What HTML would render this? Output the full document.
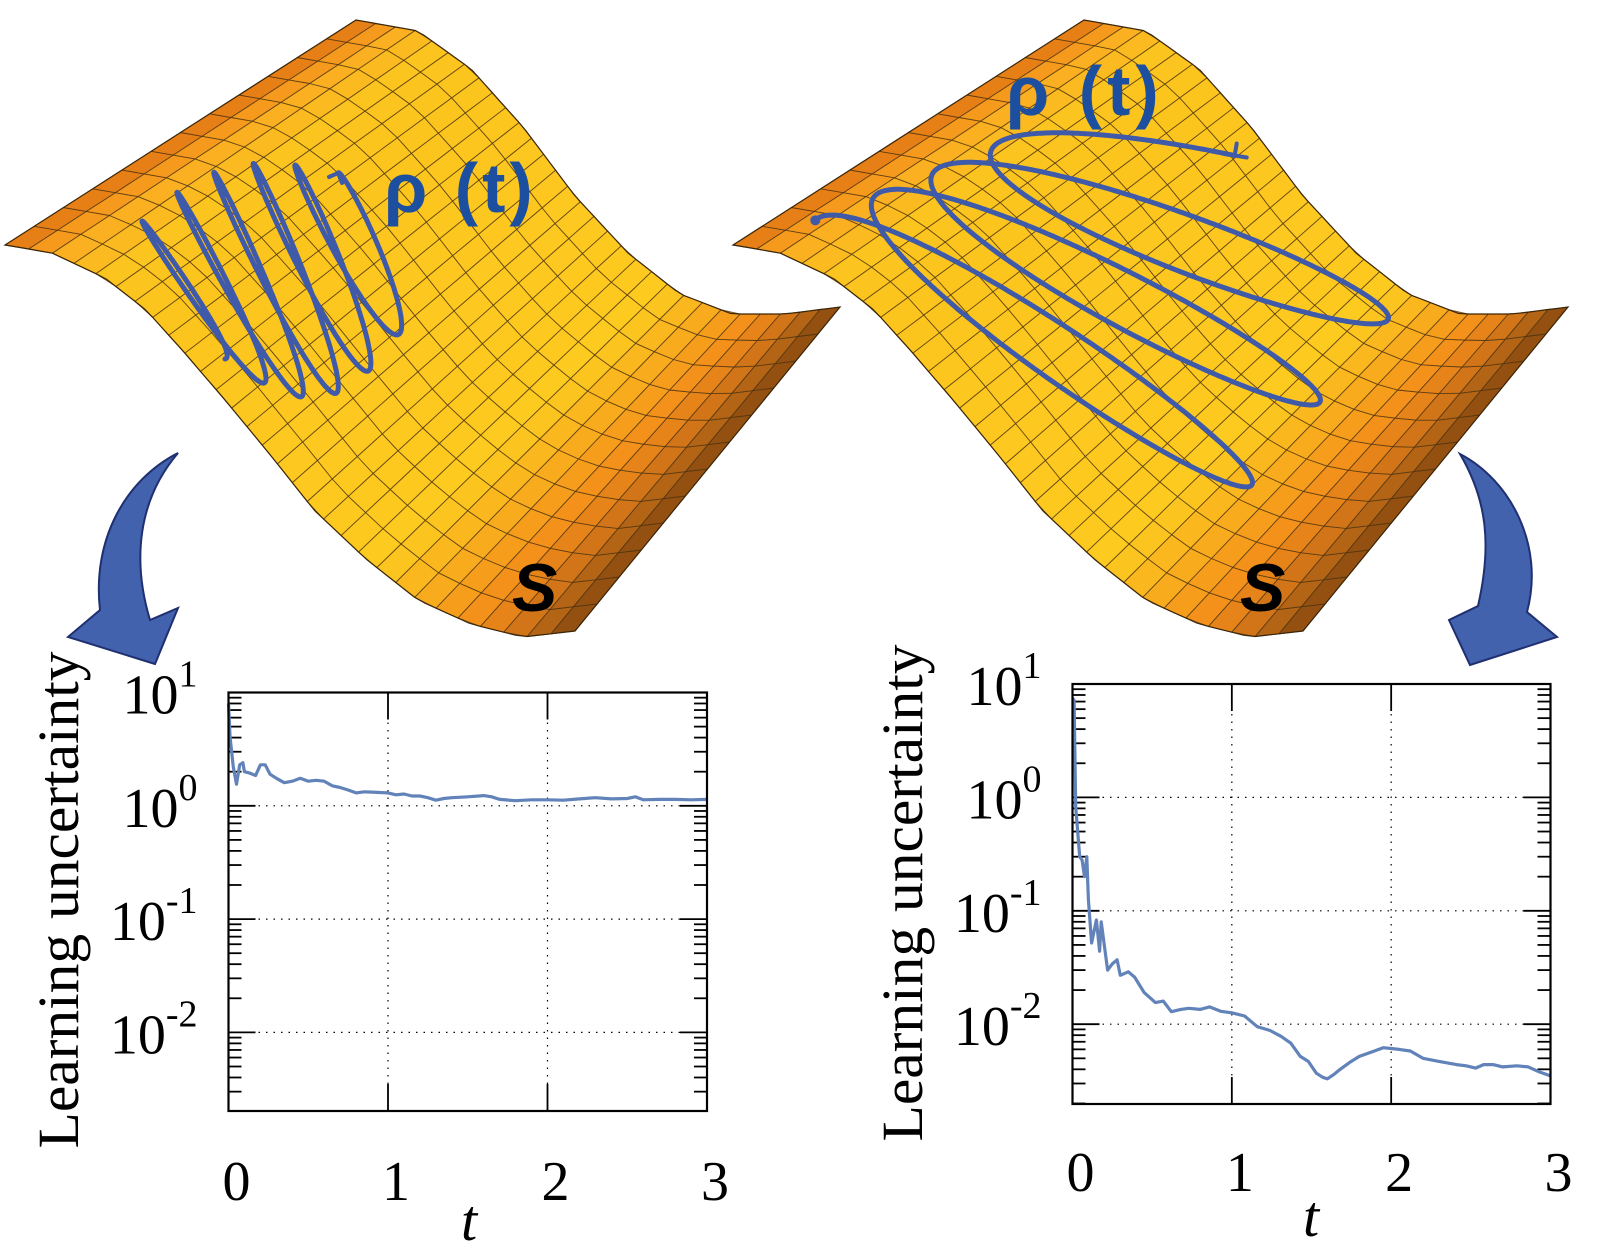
<!DOCTYPE html>
<html><head><meta charset="utf-8"><style>
html,body{margin:0;padding:0;background:#fff;}
svg{display:block;}
</style></head><body>
<svg id="fig" width="1600" height="1259" viewBox="0 0 1600 1259" xmlns="http://www.w3.org/2000/svg">
<rect x="0" y="0" width="1600" height="1259" fill="#fff"/>
<g id="surfaces"></g>
<g id="trajs"></g>
<g id="labels">
  <text x="384" y="212" font-family="Liberation Sans, DejaVu Sans, sans-serif" font-weight="bold" font-size="70" fill="#1c4fa0" letter-spacing="4">ρ (t)</text>
  <text x="1006" y="115" font-family="Liberation Sans, DejaVu Sans, sans-serif" font-weight="bold" font-size="70" fill="#1c4fa0" letter-spacing="5">ρ (t)</text>
  <text x="512" y="611" font-family="Liberation Sans, sans-serif" font-weight="bold" font-style="italic" font-size="68" fill="#000">S</text>
  <text x="1240" y="611" font-family="Liberation Sans, sans-serif" font-weight="bold" font-style="italic" font-size="68" fill="#000">S</text>
</g>
<g id="arrows">
  <path d="M178,453 C125,480 92,540 100,610 L68,637 L155,664 L178,608 L150,620 C132,560 138,500 178,453 Z" fill="#4262ad" stroke="#1f2f70" stroke-width="2"/>
  <path d="M1460,454 C1510,480 1545,545 1527,612 L1557,637 L1470,665 L1449,620 L1478,606 C1492,545 1487,500 1460,454 Z" fill="#4262ad" stroke="#1f2f70" stroke-width="2"/>
</g>
<g id="chartL"></g>
<g id="chartR"></g>
</svg>
<script>
// ---------- chart data ----------
const tLeft = [0,0.01,0.03,0.05,0.07,0.09,0.1,0.13,0.17,0.2,0.23,0.26,0.3,0.35,0.4,0.45,0.5,0.55,0.6,0.65,0.7,0.75,0.8,0.85,0.9,1.0,1.05,1.1,1.15,1.2,1.25,1.3,1.35,1.4,1.5,1.6,1.65,1.7,1.8,1.9,2.0,2.1,2.2,2.3,2.4,2.5,2.55,2.6,2.7,2.8,2.9,3.0];
const vLeft = [8,4,2.2,1.55,2.3,2.4,2.0,1.95,1.85,2.3,2.3,1.9,1.75,1.6,1.65,1.75,1.65,1.68,1.65,1.5,1.45,1.38,1.3,1.33,1.32,1.3,1.25,1.27,1.22,1.22,1.18,1.12,1.16,1.18,1.2,1.23,1.2,1.14,1.11,1.13,1.13,1.12,1.15,1.18,1.15,1.16,1.2,1.13,1.14,1.14,1.13,1.14];
const tRight = [0,0.01,0.02,0.045,0.06,0.075,0.09,0.1,0.12,0.15,0.17,0.18,0.22,0.25,0.28,0.3,0.35,0.39,0.45,0.52,0.57,0.62,0.68,0.73,0.8,0.86,0.93,1.0,1.08,1.16,1.24,1.31,1.37,1.43,1.48,1.53,1.57,1.6,1.64,1.68,1.74,1.8,1.88,1.95,2.0,2.05,2.12,2.2,2.3,2.41,2.47,2.53,2.58,2.64,2.7,2.79,2.86,2.93,3.0];
const vRight = [7.5,7.2,0.83,0.30,0.28,0.2,0.3,0.125,0.052,0.083,0.044,0.08,0.03,0.034,0.037,0.027,0.029,0.026,0.019,0.0155,0.016,0.0129,0.0135,0.0138,0.0135,0.0142,0.013,0.0126,0.0118,0.0095,0.0088,0.0078,0.0068,0.0052,0.0047,0.0037,0.0034,0.0033,0.0036,0.004,0.0046,0.0052,0.0057,0.0062,0.0061,0.006,0.0058,0.005,0.0047,0.0044,0.0043,0.0041,0.0044,0.0044,0.0042,0.0043,0.0042,0.0038,0.0035];
const xTickVals = [0,1,2,3];
const yTickExps = [1,0,-1,-2];

const NS = 'http://www.w3.org/2000/svg';
function mk(tag, attrs, parent){ const e=document.createElementNS(NS,tag); for(const k in attrs) e.setAttribute(k,attrs[k]); if(parent) parent.appendChild(e); return e; }

// ---------- surfaces ----------
const front = [[5,245],[52,253],[105,278],[146,310],[183,351],[225,400],[272,457],[314,510],[366,559],[418,600],[471,624],[523,637],[575,631]];
const back = [[356,20],[418,31],[471,69],[523,127],[575,196],[628,253],[680,294],[732,314],[785,314],[840,307]];
function resample(pts){
  const L=[0]; for(let i=1;i<pts.length;i++){L.push(L[i-1]+Math.hypot(pts[i][0]-pts[i-1][0],pts[i][1]-pts[i-1][1]));}
  const tot=L[L.length-1];
  return function(f){ const d=f*tot; let i=1; while(i<L.length-1 && L[i]<d) i++; const a=(d-L[i-1])/(L[i]-L[i-1]||1); return [pts[i-1][0]+(pts[i][0]-pts[i-1][0])*a, pts[i-1][1]+(pts[i][1]-pts[i-1][1])*a]; };
}
const Fr=resample(front), Bk=resample(back);
const stops=[[0,[215,110,18]],[0.03,[243,140,27]],[0.08,[250,175,33]],[0.15,[252,196,30]],[0.7,[253,202,31]],[0.78,[249,172,30]],[0.85,[243,145,26]],[0.9,[225,125,25]],[0.96,[170,95,20]],[1,[130,70,14]]];
function col(u){ for(let i=1;i<stops.length;i++){ if(u<=stops[i][0]){ const a=(u-stops[i-1][0])/(stops[i][0]-stops[i-1][0]); const c=stops[i-1][1].map((x,k)=>Math.round(x+(stops[i][1][k]-x)*a)); return 'rgb('+c.join(',')+')'; } } return 'rgb(130,70,14)'; }
function drawSurface(dx, name){
  const g=mk('g',{transform:'translate('+dx+',0)'},document.getElementById('surfaces'));
  
  
  const nu=30, nv=12;
  const P=(u,v)=>{const f=Fr(u), b=Bk(u); return [f[0]+(b[0]-f[0])*v, f[1]+(b[1]-f[1])*v];};
  for(let i=0;i<nu;i++){ for(let j=0;j<nv;j++){
    const u0=i/nu,u1=(i+1)/nu,v0=j/nv,v1=(j+1)/nv;
    const q=[P(u0,v0),P(u1,v0),P(u1,v1),P(u0,v1)];
    const c=col((u0+u1)/2);
    mk('polygon',{points:q.map(p=>p.map(x=>x.toFixed(1)).join(',')).join(' '),fill:c,stroke:'#4a3210','stroke-width':'0.9','stroke-opacity':'0.75'},g);
  }}
  const outline=[]; for(let i=0;i<=60;i++) outline.push(P(i/60,0)); for(let i=60;i>=0;i--) outline.push(P(i/60,1));
  mk('polygon',{points:outline.map(p=>p.map(x=>x.toFixed(1)).join(',')).join(' '),fill:'none',stroke:'#3a2608','stroke-width':'1.2'},g);
}
drawSurface(0,'surface-left');
drawSurface(728,'surface-right');

// ---------- trajectories ----------
(function(){
  const tg=document.getElementById('trajs');
  let pts=[]; const N=900, th1=2*Math.PI*5.5;
  for(let k=0;k<=N;k++){ const s=k/N, th=th1*s, b=Math.sin(Math.PI*s);
    const A=[175+(376-175)*s, 298+(243-298)*s+12*b];
    const D=[50+(38-50)*s+8*b, 61+(70-61)*s+48*b];
    const len=Math.hypot(D[0],D[1]), W=[ D[1]/len*11, -D[0]/len*11];
    pts.push([A[0]+D[0]*Math.cos(th)+W[0]*Math.sin(th), A[1]+D[1]*Math.cos(th)+W[1]*Math.sin(th)]); }
  const pl=mk('polyline',{points:pts.map(p=>p.map(x=>x.toFixed(1)).join(',')).join(' '),fill:'none',stroke:'#3f5aa8','stroke-width':'5','stroke-linejoin':'round','stroke-linecap':'round'},tg);
  
  
  const e=pts[pts.length-1];
  mk('polyline',{points:(e[0]-9)+','+(e[1]+4)+' '+e[0]+','+e[1]+' '+(e[0]+4)+','+(e[1]+10),fill:'none',stroke:'#3f5aa8','stroke-width':'4','stroke-linecap':'round'},tg);
  pts=[]; const th0=Math.PI, thE=1.5*Math.PI+6*Math.PI;
  for(let k=0;k<=1400;k++){ const s=k/1400, th=th0+(thE-th0)*s;
    const A=[985+200*s, 366-170*s], D=[195+15*s, 150-95*s];
    const len=Math.hypot(D[0],D[1]), W=[-D[1]/len*45, D[0]/len*45];
    const x=A[0]+D[0]*Math.cos(th)+W[0]*Math.sin(th), y=A[1]+D[1]*Math.cos(th)+W[1]*Math.sin(th);
    pts.push([x*1.032, y*1.02]); }
  const pr=mk('polyline',{points:pts.map(p=>p.map(x=>x.toFixed(1)).join(',')).join(' '),fill:'none',stroke:'#3f5aa8','stroke-width':'5','stroke-linejoin':'round','stroke-linecap':'round'},tg);
  
  
  const s0=pts[0]; mk('circle',{cx:s0[0],cy:s0[1],r:5,fill:'#3f5aa8'},tg);
  const e2=pts[pts.length-1];
  mk('polyline',{points:(e2[0]+2)+','+(e2[1]-12)+' '+e2[0]+','+e2[1]+' '+(e2[0]+12)+','+(e2[1]+2),fill:'none',stroke:'#3f5aa8','stroke-width':'4','stroke-linecap':'round'},tg);
})();

// ---------- charts ----------
function drawChart(gid, ts, vs, cfg){
  const g=document.getElementById(gid);
  const X=t=>cfg.x0+t/3*(cfg.x1-cfg.x0);
  const Y=v=>cfg.yTop+(1-Math.log10(v))*cfg.dec;
  const font='Liberation Serif, DejaVu Serif, serif';
  xTickVals.slice(1,3).forEach(t=>{ const l=mk('line',{x1:X(t),x2:X(t),y1:cfg.yTop,y2:cfg.yBot,stroke:'#000','stroke-width':'1.2','stroke-dasharray':'1.5,6'},g);
      });
  yTickExps.forEach(e=>{ const y=Y(Math.pow(10,e)); if(y>cfg.yTop+1){ const l=mk('line',{x1:cfg.x0,x2:cfg.x1,y1:y,y2:y,stroke:'#000','stroke-width':'1.2','stroke-dasharray':'1.5,6'},g);
      } });
  for(let e=-3;e<=1;e++){ for(let m=1;m<=9;m++){ const v=m*Math.pow(10,e); const y=Y(v); if(y<cfg.yTop-0.5||y>cfg.yBot+0.5) continue;
    const L=(m===1)?27:13;
    mk('line',{x1:cfg.x0,x2:cfg.x0+L,y1:y,y2:y,stroke:'#000','stroke-width':'1.8'},g);
    mk('line',{x1:cfg.x1,x2:cfg.x1-L,y1:y,y2:y,stroke:'#000','stroke-width':'1.8'},g); } }
  xTickVals.forEach(t=>{ const x=X(t);
    mk('line',{x1:x,x2:x,y1:cfg.yTop,y2:cfg.yTop+27,stroke:'#000','stroke-width':'1.8'},g);
    mk('line',{x1:x,x2:x,y1:cfg.yBot,y2:cfg.yBot-27,stroke:'#000','stroke-width':'1.8'},g);
    const tx=mk('text',{x:x+8,y:cfg.yBot+cfg.xlab,'font-family':font,'font-size':'56','text-anchor':'middle',fill:'#000'},g);
    tx.textContent=String(t);
      });
  yTickExps.forEach(e=>{ const y=Y(Math.pow(10,e));
    const tx=mk('text',{x:cfg.x0-31,y:y+21,'font-family':font,'font-size':'56','text-anchor':'end',fill:'#000'},g);
     
    const a=mk('tspan',{},tx); a.textContent='10';
    const b=mk('tspan',{dy:'-27','font-size':'38'},tx); b.textContent=String(e); });
  const d=ts.map((t,i)=>(i?'L':'M')+X(t).toFixed(1)+','+Y(vs[i]).toFixed(1)).join(' ');
  const p=mk('path',{d:d,fill:'none',stroke:'#6283b9','stroke-width':'3.2','stroke-linejoin':'round'},g);
   
  const f=mk('rect',{x:cfg.x0,y:cfg.yTop,width:cfg.x1-cfg.x0,height:cfg.yBot-cfg.yTop,fill:'none',stroke:'#000','stroke-width':'2.2'},g);
   
  const xt=mk('text',{x:cfg.tx,y:cfg.ty,'font-family':font,'font-size':'58','font-style':'italic','text-anchor':'middle',fill:'#000'},g);
  xt.textContent='t';
   
  const yt=mk('text',{x:0,y:0,transform:'translate('+cfg.ytx+','+cfg.yty+') rotate(-90)','font-family':font,'font-size':'58','text-anchor':'middle',fill:'#000',textLength:'497',lengthAdjust:'spacingAndGlyphs'},g);
  yt.textContent='Learning uncertainty';
   
}
drawChart('chartL', tLeft, vLeft, {x0:228.5,x1:707,yTop:692.5,dec:113.3,yBot:1111,xlab:89,tx:469,ty:1240,ytx:78,yty:900});
drawChart('chartR', tRight, vRight, {x0:1072.5,x1:1550.5,yTop:684,dec:113.4,yBot:1104,xlab:87,tx:1311,ty:1236,ytx:922,yty:893});
</script>
</body></html>
